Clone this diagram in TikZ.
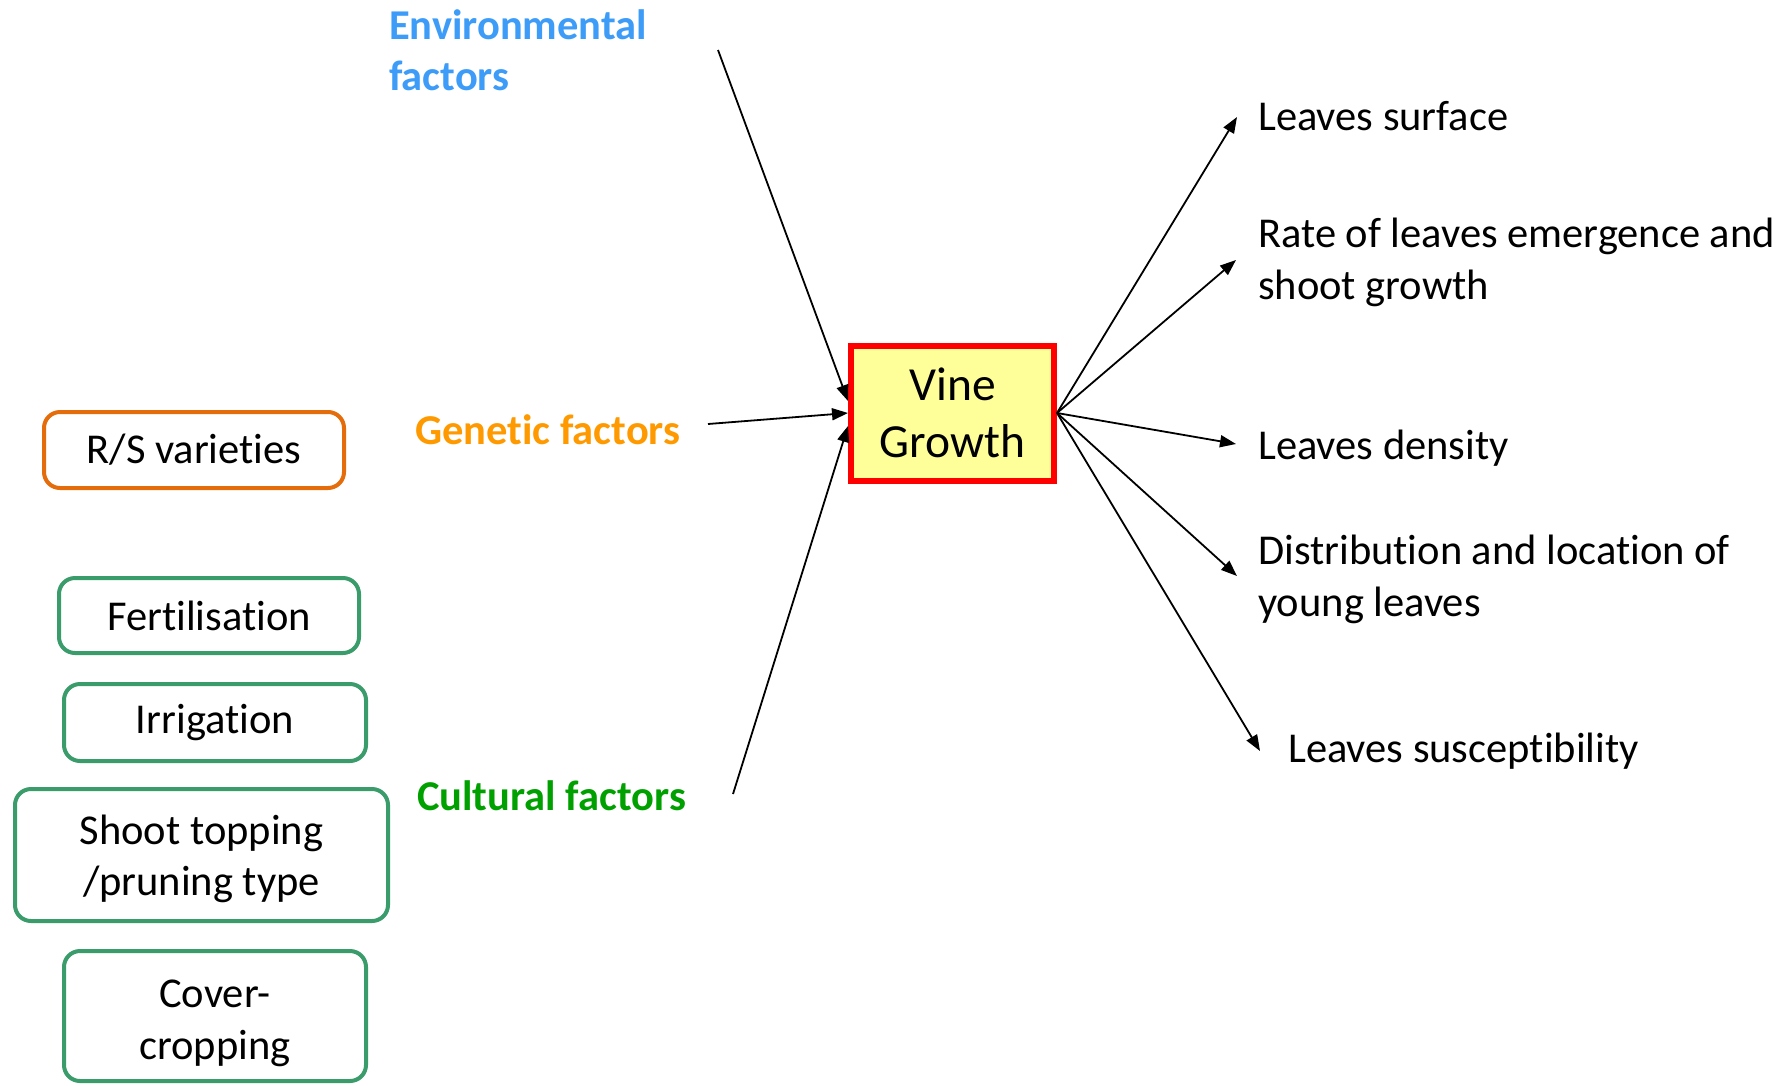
\documentclass[tikz,border=0pt]{standalone}
\usepackage{fontspec}
\setmainfont[Ligatures=NoCommon]{Carlito}
\usetikzlibrary{arrows.meta}
\definecolor{envblue}{HTML}{3C9CF8}
\definecolor{genorange}{HTML}{FF9900}
\definecolor{culgreen}{HTML}{00A000}
\definecolor{boxorange}{HTML}{E46C0A}
\definecolor{boxgreen}{HTML}{3A9B6B}
\definecolor{vgred}{HTML}{FF0000}
\definecolor{vgfill}{HTML}{FFFF99}
\newcommand{\fnorm}{\fontsize{42.5}{51.5}\selectfont}
\newcommand{\fbig}{\fontsize{47.5}{57}\selectfont}
\newcommand{\fbold}{\fontsize{42.5}{51}\selectfont\bfseries}
\tikzset{
  lbl/.style={inner sep=0pt, anchor=base west, align=left, font=\fnorm},
  factor/.style={inner sep=0pt, anchor=base west, align=left, font=\fbold},
  leftbox/.style={draw, line width=4pt, rounded corners=16pt, inner sep=0pt, align=center, font=\fnorm},
  obox/.style={leftbox, draw=boxorange},
  gbox/.style={leftbox, draw=boxgreen},
  conn/.style={line width=1.8pt, -{Triangle[length=16pt,width=12pt]}}
}
\begin{document}
\begin{tikzpicture}[x=1pt,y=-1pt]
\useasboundingbox (0,0) rectangle (1789,1085);

% central node
\node[draw=vgred, fill=vgfill, line width=6pt, minimum width=203pt, minimum height=135pt,
      inner sep=0pt, align=center, font=\fbig] (vg) at (952.5,413) {Vine\\Growth};

% factor labels
\node[factor, text=envblue] (env) at (389,90) {Environmental\\factors};
\node[factor, text=genorange] (gen) at (415,444) {Genetic factors};
\node[factor, text=culgreen] (cul) at (417,810) {Cultural factors};

% left boxes
\node[obox, minimum width=300pt, minimum height=76pt] (rs) at (194,450) {R/S varieties};
\node[gbox, minimum width=300pt, minimum height=75pt] (fert) at (209,615.5) {Fertilisation};
\node[gbox, minimum width=302pt, minimum height=77pt] (irr) at (215,722.5) {Irrigation};
\node[gbox, minimum width=373pt, minimum height=132pt] (shoot) at (201.5,855) {\rule{0pt}{37pt}Shoot topping\\/pruning type};
\node[gbox, minimum width=302pt, minimum height=130pt] (cover) at (215,1016) {\rule{0pt}{42pt}Cover-\\cropping};

% right labels
\node[lbl] (surf) at (1258,130) {Leaves surface};
\node[lbl] (rate) at (1258,299) {Rate of leaves emergence and\\shoot growth};
\node[lbl] (dens) at (1258,459) {Leaves density};
\node[lbl] (dist) at (1258,616) {Distribution and location of\\young leaves};
\node[lbl] (susc) at (1288,762) {Leaves susceptibility};

% free ends
\coordinate (envS) at (718,50);
\coordinate (genS) at (708,424);
\coordinate (culS) at (733,794);
\coordinate (surfE) at (1237,117);
\coordinate (rateE) at (1236,260);
\coordinate (densE) at (1236,444);
\coordinate (distE) at (1237,576);
\coordinate (suscE) at (1260,751);

% input arrows
\draw[conn] (envS) -- ([yshift=12pt]vg.west);
\draw[conn] (genS) -- (vg.west);
\draw[conn] (culS) -- ([yshift=-13pt]vg.west);

% output arrows
\draw[conn] (vg.east) -- (surfE);
\draw[conn] (vg.east) -- (rateE);
\draw[conn] (vg.east) -- (densE);
\draw[conn] (vg.east) -- (distE);
\draw[conn] (vg.east) -- (suscE);
\end{tikzpicture}
\end{document}
